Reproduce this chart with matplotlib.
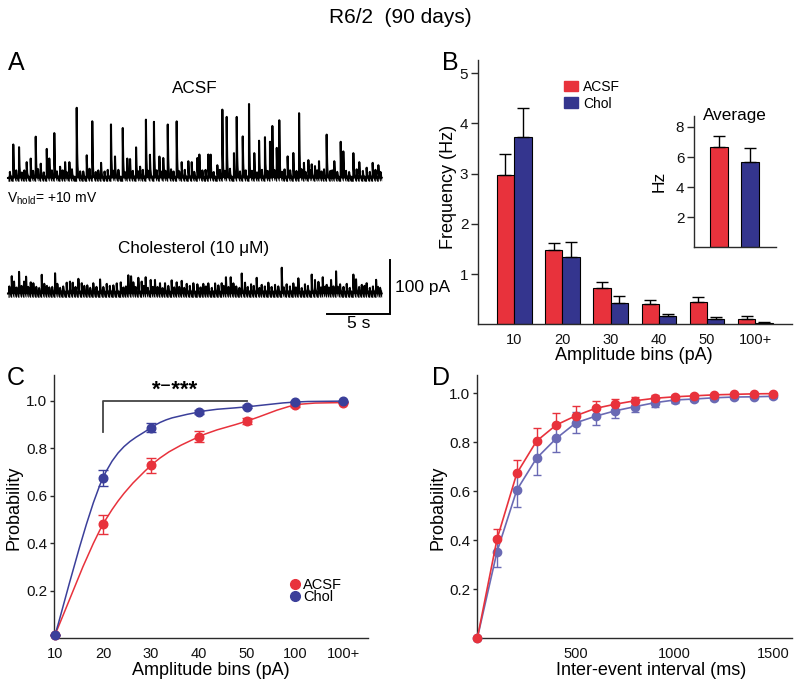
import numpy as np
import matplotlib
matplotlib.use('Agg')
from matplotlib import pyplot
from matplotlib.path import Path
from matplotlib.patches import PathPatch, Patch
from matplotlib.lines import Line2D

pyplot.rcParams['font.family'] = ['Liberation Sans', 'DejaVu Sans']
pyplot.rcParams['mathtext.fontset'] = 'custom'
pyplot.rcParams['mathtext.rm'] = 'Liberation Sans'
pyplot.rcParams['mathtext.it'] = 'Liberation Sans:italic'

# ---- panel A: sEPSC events (time in s, amplitude in pA)
trace_dur = 29.8
acsf_event_t = [0.42, 0.88, 1.49, 1.81, 2.21, 2.61, 3.09, 3.29, 3.69, 4.15,
                4.55, 4.89, 5.48, 6.28, 6.72, 7.42, 8.21, 8.53, 9.15, 9.51,
                9.73, 10.21, 10.53, 11.00, 11.32, 11.64, 12.07, 12.38, 12.74,
                13.45, 13.85, 14.38, 14.65, 15.10, 15.26, 15.97, 16.16, 16.69,
                17.09, 17.44, 18.02, 18.24, 18.72, 19.22, 19.64, 20.02, 20.49,
                20.89, 21.08, 21.43, 21.63, 22.30, 22.75, 23.21, 23.60, 23.95,
                24.22, 24.48, 24.80, 25.41, 26.02, 26.53, 26.74, 27.54, 28.01,
                28.60, 29.08, 29.53]
acsf_event_amp = [62, 57, 31, 38, 81, 28, 57, 38, 88, 22,
                  31, 31, 130, 42, 105, 28, 105, 42, 98, 38,
                  37, 60, 22, 108, 43, 104, 42, 37, 99,
                  111, 31, 31, 31, 37, 43, 46, 43, 25,
                  134, 113, 46, 113, 77, 137, 46, 69, 80,
                  71, 96, 59, 113, 40, 49, 127, 28, 35,
                  25, 22, 31, 85, 31, 71, 49, 46, 31,
                  19, 28, 25]
acsf_minor_t = [0.15, 0.65, 1.10, 1.30, 2.00, 2.40, 2.85, 3.50, 3.90, 4.35,
                4.70, 5.10, 5.75, 6.00, 6.50, 7.00, 7.20, 7.70, 7.95, 8.40,
                8.80, 9.35, 9.95, 10.40, 10.75, 11.15, 11.85, 12.20, 12.55,
                13.00, 13.20, 13.65, 14.10, 14.85, 15.50, 15.75, 16.40, 16.90,
                17.30, 17.70, 18.50, 18.95, 19.45, 19.85, 20.25, 20.70, 21.25,
                21.85, 22.05, 22.50, 23.00, 23.40, 23.75, 24.10, 24.65, 25.00,
                25.20, 25.70, 25.85, 26.25, 26.95, 27.20, 27.80, 28.30, 28.85,
                29.30, 29.70]
acsf_minor_amp = [12, 15, 10, 14, 13, 16, 11, 14, 12, 15,
                  10, 16, 13, 12, 17, 11, 14, 12, 16, 13,
                  15, 11, 14, 12, 16, 13, 15, 11, 14,
                  16, 12, 13, 15, 12, 14, 16, 11, 15,
                  13, 17, 12, 15, 14, 11, 16, 13, 15,
                  12, 17, 14, 13, 16, 11, 14, 15, 12,
                  16, 13, 15, 12, 14, 11, 16, 13, 12,
                  15, 11]
chol_event_t = [0.30, 0.48, 0.88, 1.28, 1.44, 1.81, 2.02, 2.69, 2.89, 3.29,
                3.75, 3.93, 4.68, 4.94, 5.16, 5.61, 5.88, 6.32, 6.80, 7.34,
                7.87, 8.40, 8.67, 8.99, 9.59, 9.81, 9.99, 10.39, 10.66, 10.98,
                11.38, 11.72, 12.12, 12.52, 13.05, 13.45, 13.85, 14.25, 14.78,
                15.10, 15.57, 15.97, 16.51, 16.77, 17.04, 17.38, 17.76, 17.97,
                18.64, 18.90, 19.38, 19.83, 20.23, 20.76, 21.29, 21.83, 22.22,
                22.75, 23.15, 23.68, 24.22, 24.48, 24.75, 25.10, 25.41, 25.76,
                26.16, 26.48, 27.01, 27.54, 27.75, 28.21, 28.60, 29.35, 29.67]
chol_event_amp = [32, 22, 40, 22, 31, 22, 19, 37, 19, 12,
                  40, 19, 20, 22, 20, 29, 19, 15, 19, 26,
                  19, 15, 20, 22, 36, 34, 22, 31, 22, 30,
                  25, 25, 19, 19, 26, 22, 25, 19, 19,
                  17, 19, 20, 20, 16, 19, 30, 30, 20,
                  37, 20, 17, 31, 17, 20, 17, 51, 17,
                  20, 30, 17, 35, 25, 23, 30, 17, 25,
                  41, 17, 19, 35, 28, 17, 19, 27, 11]
chol_minor_t = [0.10, 0.68, 1.08, 1.62, 2.25, 2.48, 3.10, 3.52, 4.15, 4.40,
                5.38, 6.08, 6.55, 7.05, 7.60, 8.12, 9.20, 9.40, 10.18, 10.82,
                11.15, 11.55, 11.92, 12.32, 12.78, 13.25, 13.65, 14.05, 14.50,
                15.35, 15.78, 16.25, 17.20, 17.58, 18.20, 18.45, 19.12, 19.60,
                20.05, 20.48, 21.02, 21.55, 22.00, 22.48, 22.95, 23.42, 23.92,
                24.95, 25.25, 25.58, 25.95, 26.30, 26.75, 27.25, 28.00, 28.42,
                28.85, 29.10, 29.50]
chol_minor_amp = [13, 11, 14, 12, 13, 10, 14, 12, 11, 13,
                  12, 14, 11, 13, 12, 14, 11, 13, 12, 14,
                  11, 13, 12, 10, 14, 12, 13, 11, 14,
                  12, 13, 11, 14, 12, 13, 11, 12, 14,
                  11, 13, 12, 14, 11, 13, 12, 10, 14,
                  12, 13, 11, 14, 12, 13, 11, 12, 14,
                  11, 13, 12]

# ---- panel B: frequency per amplitude bin
amp_bins = ['10', '20', '30', '40', '50', '100+']
acsf_freq = [2.98, 1.475, 0.73, 0.41, 0.445, 0.113]
acsf_freq_err = [0.40, 0.145, 0.11, 0.07, 0.10, 0.047]
chol_freq = [3.72, 1.34, 0.43, 0.17, 0.10, 0.027]
chol_freq_err = [0.58, 0.29, 0.13, 0.04, 0.046, 0.013]
avg_freq = [6.67, 5.64]
avg_freq_err = [0.75, 0.93]

# ---- panel C: cumulative amplitude probability
cum_bins = ['10', '20', '30', '40', '50', '100', '100+']
acsf_cum = [0.014, 0.48, 0.728, 0.849, 0.915, 0.982, 0.993]
acsf_cum_err = [0.0, 0.04, 0.03, 0.023, 0.012, 0.006, 0.004]
chol_cum = [0.014, 0.676, 0.887, 0.953, 0.975, 0.995, 0.999]
chol_cum_err = [0.0, 0.033, 0.02, 0.008, 0.006, 0.003, 0.002]

# ---- panel D: cumulative inter-event interval probability
iei_ms = [0, 100, 200, 300, 400, 500, 600, 700, 800, 900, 1000,
          1100, 1200, 1300, 1400, 1500]
acsf_iei = [0.0, 0.405, 0.673, 0.805, 0.871, 0.909, 0.939, 0.956, 0.970,
            0.980, 0.986, 0.990, 0.994, 0.996, 0.998, 0.999]
acsf_iei_err = [0.0, 0.041, 0.057, 0.055, 0.047, 0.039, 0.031, 0.021, 0.016,
                0.012, 0.008, 0.006, 0.004, 0.004, 0.003, 0.003]
chol_iei = [0.0, 0.354, 0.605, 0.735, 0.816, 0.880, 0.907, 0.929, 0.946,
            0.962, 0.973, 0.977, 0.982, 0.985, 0.986, 0.988]
chol_iei_err = [0.0, 0.061, 0.070, 0.068, 0.054, 0.043, 0.036, 0.029, 0.022,
                0.016, 0.012, 0.010, 0.008, 0.007, 0.006, 0.005]

RED = '#e8323c'
NAVY = '#34358e'
BLUE_C = '#3b3f9a'
BLUE_D = '#6a6ab4'
AXIS = '#2a2a2a'

W, H = 800, 685


def box(left, top, right, bottom):
    return [left / W, 1 - bottom / H, (right - left) / W, (bottom - top) / H]


def style(ax, xpad=5, ylen=4):
    for side in ('top', 'right'):
        ax.spines[side].set_visible(False)
    for side in ('left', 'bottom'):
        ax.spines[side].set_color(AXIS)
        ax.spines[side].set_linewidth(1.0)
    ax.tick_params(axis='x', length=0, pad=xpad, labelsize=10.5, colors='#111111')
    ax.tick_params(axis='y', length=ylen, width=1, pad=2, labelsize=11,
                   colors=AXIS, labelcolor='#111111')


def smooth_path(xs, ys):
    p = np.column_stack([xs, ys]).astype(float)
    ext = np.vstack([p[0], p, p[-1]])
    verts = [p[0]]
    codes = [Path.MOVETO]
    for i in range(len(p) - 1):
        p0, p1, p2, p3 = ext[i], ext[i + 1], ext[i + 2], ext[i + 3]
        verts += [p1 + (p2 - p0) / 6.0, p2 - (p3 - p1) / 6.0, p2]
        codes += [Path.CURVE4] * 3
    return Path(verts, codes)


fig = pyplot.figure(figsize=(8, 6.85), dpi=100)
fig.text(0.5, 1 - 23 / H, 'R6/2  (90 days)', ha='center', va='baseline',
         fontsize=15)

# ------------------------------------------------------------------ A
px_s, px_pA = 12.54, 0.54
axA = fig.add_axes(box(0, 80, 420, 340))
axA.set_xlim(-8 / px_s, 412 / px_s)
axA.set_ylim(-162 / px_pA, 98 / px_pA)
axA.axis('off')
t = np.arange(0, trace_dur, 0.004)


def build_trace(times, amps, tau):
    y = np.zeros_like(t)
    for t0, a in zip(times, amps):
        m = t >= t0
        y[m] += a * np.exp(-(t[m] - t0) / tau)
    return y


acsf_trace = (build_trace(acsf_event_t, acsf_event_amp, 0.035)
              + build_trace(acsf_minor_t, acsf_minor_amp, 0.03))
chol_offset = -115.5 / px_pA
chol_trace = (build_trace(chol_event_t, chol_event_amp, 0.03)
              + build_trace(chol_minor_t, chol_minor_amp, 0.03) + chol_offset)
axA.fill_between(t, acsf_trace - 6, acsf_trace + 5, color='black', lw=0)
axA.plot(t, acsf_trace, color='black', lw=1.5)
axA.fill_between(t, chol_trace - 7, chol_trace + 6, color='black', lw=0)
axA.plot(t, chol_trace, color='black', lw=1.5)

bar_x = trace_dur + 0.66
bar_bottom = chol_offset - 38
axA.plot([bar_x - 5, bar_x, bar_x], [bar_bottom, bar_bottom, bar_bottom + 100],
         color='black', lw=1.4, solid_joinstyle='miter')
axA.text(bar_x + 0.4, bar_bottom + 50, '100 pA', ha='left', va='center',
         fontsize=12.5)
axA.text(bar_x - 2.5, bar_bottom - 4, '5 s', ha='center', va='top',
         fontsize=12.5)

fig.text(195 / W, 1 - 93 / H, 'ACSF', ha='center', va='baseline', fontsize=12.3)
fig.text(194 / W, 1 - 253 / H, 'Cholesterol (10 \u03bcM)', ha='center',
         va='baseline', fontsize=12.3)
fig.text(7 / W, 1 - 203 / H, r'V$_{\mathrm{hold}}$= +10 mV', ha='left',
         va='baseline', fontsize=10)

for letter, x, y in [('A', 8, 70), ('B', 442, 70), ('C', 7, 385), ('D', 432, 385)]:
    fig.text(x / W, 1 - y / H, letter, ha='left', va='baseline', fontsize=18)

# ------------------------------------------------------------------ B
axB = fig.add_axes(box(478, 60, 792, 324.3))
xb = np.arange(len(amp_bins))
ekw = dict(ecolor='black', elinewidth=1, capsize=4, capthick=1)
axB.bar(xb - 0.18, acsf_freq, 0.36, color=RED, edgecolor='black', lw=0.8,
        yerr=[np.zeros(len(xb)), acsf_freq_err], error_kw=ekw, label='ACSF')
axB.bar(xb + 0.18, chol_freq, 0.36, color=NAVY, edgecolor='black', lw=0.8,
        yerr=[np.zeros(len(xb)), chol_freq_err], error_kw=ekw, label='Chol')
axB.set_xlim(-0.75, 5.76)
axB.set_ylim(0, 5.26)
axB.set_xticks(xb)
axB.set_xticklabels(amp_bins)
axB.set_yticks([1, 2, 3, 4, 5])
style(axB, xpad=6, ylen=5)
axB.set_ylabel('Frequency (Hz)', fontsize=13)
axB.yaxis.set_label_coords(-0.067, 0.518)
axB.set_xlabel('Amplitude bins (pA)', fontsize=13)
axB.xaxis.set_label_coords(0.497, -0.086)
axB.legend(handles=[Patch(color=RED, label='ACSF'), Patch(color=NAVY, label='Chol')],
           loc='upper left', bbox_to_anchor=(0.274, 0.925), frameon=False,
           fontsize=10, handlelength=1.0, handleheight=0.8, handletextpad=0.35,
           labelspacing=0.2, borderpad=0, borderaxespad=0)

axI = fig.add_axes(box(694, 116, 776, 247.3))
axI.bar([0, 1], avg_freq, 0.58, color=[RED, NAVY], edgecolor='black', lw=0.8,
        yerr=[[0, 0], avg_freq_err], error_kw=ekw)
axI.set_xlim(-0.81, 1.84)
axI.set_ylim(0, 8.73)
axI.set_xticks([])
axI.set_yticks([2, 4, 6, 8])
style(axI, ylen=5)
axI.set_ylabel('Hz', fontsize=12.5)
axI.yaxis.set_label_coords(-0.33, 0.505)
axI.text(0.5, 0.97, 'Average', transform=axI.transAxes, ha='center',
         va='baseline', fontsize=12.3)

# ------------------------------------------------------------------ C
axC = fig.add_axes(box(54.3, 375, 368, 638.3))
xc = np.arange(len(cum_bins))
axC.add_patch(PathPatch(smooth_path(xc, acsf_cum), fill=False, edgecolor=RED, lw=1.1))
axC.add_patch(PathPatch(smooth_path(xc, chol_cum), fill=False, edgecolor=BLUE_C, lw=1.1))
axC.errorbar(xc, acsf_cum, yerr=acsf_cum_err, fmt='o', color=RED, ms=6.2,
             capsize=3.5, elinewidth=1, capthick=1, clip_on=False, zorder=3)
axC.errorbar(xc, chol_cum, yerr=chol_cum_err, fmt='o', color=BLUE_C, ms=6.2,
             capsize=3.5, elinewidth=1, capthick=1, clip_on=False, zorder=4)
sig_from, sig_to = 1, 4
axC.plot([sig_from, sig_from, sig_to], [0.867, 1.0, 1.0], color='#444444', lw=1.3)
axC.text((sig_from + sig_to) / 2, 1.002, '*\u207b***', ha='center', va='bottom',
         fontsize=16, fontweight='bold')
axC.set_xlim(-0.015, 6.52)
axC.set_ylim(0, 1.109)
axC.set_xticks(xc)
axC.set_xticklabels(cum_bins)
axC.set_yticks([0.2, 0.4, 0.6, 0.8, 1.0])
style(axC, xpad=6, ylen=3)
axC.set_ylabel('Probability', fontsize=13)
axC.yaxis.set_label_coords(-0.1, 0.497)
axC.set_xlabel('Amplitude bins (pA)', fontsize=13)
axC.xaxis.set_label_coords(0.5, -0.09)
axC.legend(handles=[Line2D([], [], marker='o', ls='', color=RED, ms=7, label='ACSF'),
                    Line2D([], [], marker='o', ls='', color=BLUE_C, ms=7, label='Chol')],
           loc='center left', bbox_to_anchor=(0.75, 0.179), frameon=False,
           fontsize=10.5, handlelength=0.7, handletextpad=0.25, labelspacing=-0.1,
           borderpad=0, borderaxespad=0)

# ------------------------------------------------------------------ D
axD = fig.add_axes(box(477.3, 375, 791.7, 638.3))
axD.errorbar(iei_ms, chol_iei, yerr=chol_iei_err, fmt='-o', color=BLUE_D, ms=6,
             lw=1.2, capsize=3, elinewidth=1, capthick=1, clip_on=False, zorder=3)
axD.errorbar(iei_ms, acsf_iei, yerr=[np.zeros(len(iei_ms)), acsf_iei_err],
             fmt='-o', color=RED, ms=6, lw=1.2, capsize=3, elinewidth=1,
             capthick=1, clip_on=False, zorder=4)
axD.set_xlim(0, 1593)
axD.set_ylim(0, 1.075)
axD.set_xticks([500, 1000, 1500])
axD.set_yticks([0.2, 0.4, 0.6, 0.8, 1.0])
style(axD, xpad=6, ylen=3)
axD.set_ylabel('Probability', fontsize=13)
axD.yaxis.set_label_coords(-0.097, 0.497)
axD.set_xlabel('Inter-event interval (ms)', fontsize=13)
axD.xaxis.set_label_coords(0.552, -0.09)

pyplot.savefig('out.png', dpi=100)
